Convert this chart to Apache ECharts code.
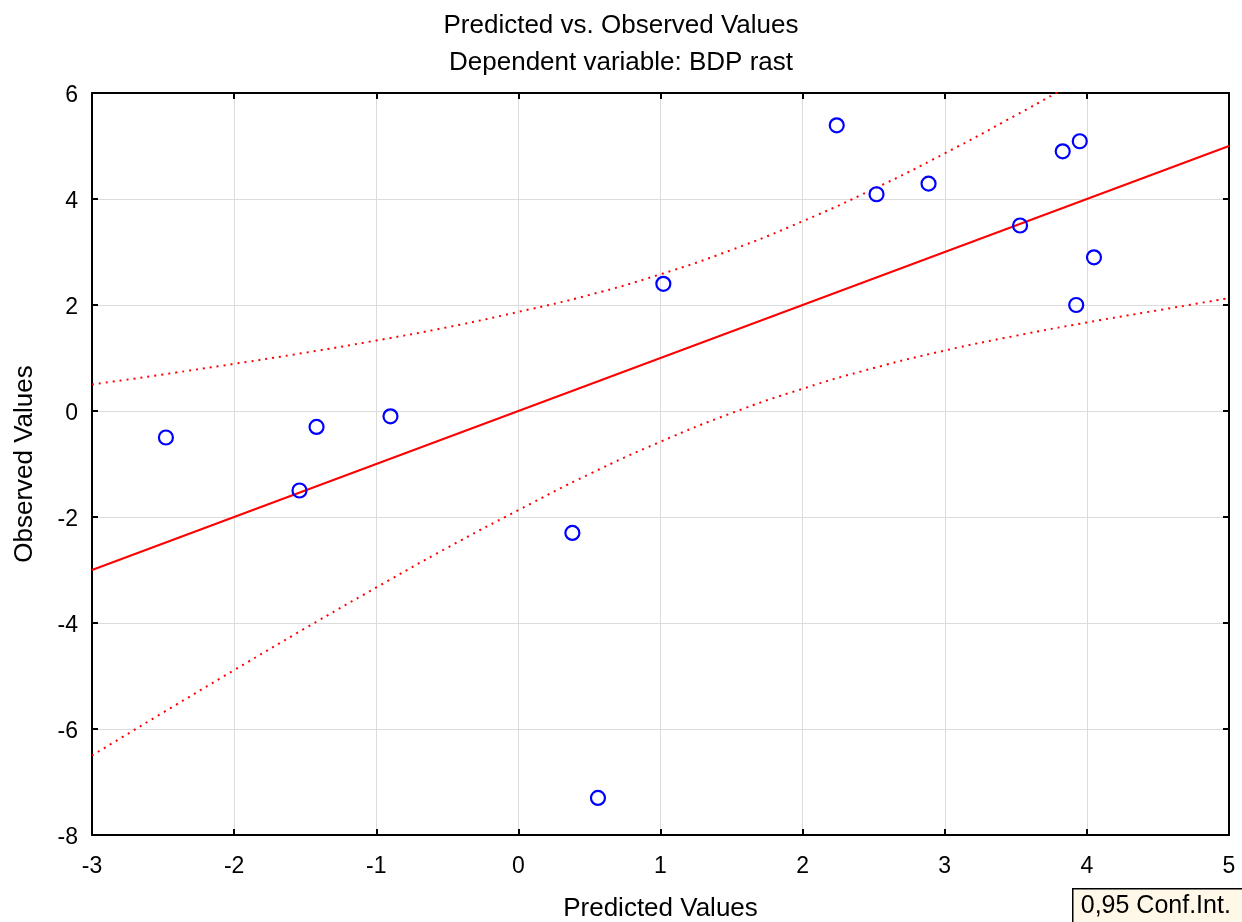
<!DOCTYPE html>
<html>
<head>
<meta charset="utf-8">
<script src="https://cdn.jsdelivr.net/npm/echarts@6/dist/echarts.min.js"></script>
<style>html,body{margin:0;padding:0;background:#fff;}#c{width:1242px;height:922px;}</style>
</head>
<body>
<div id="c"></div>
<script>
var titleText = 'Predicted vs. Observed Values';
var subtitleText = 'Dependent variable: BDP rast';
var xName = 'Predicted Values';
var yName = 'Observed Values';
var legendText = '0,95 Conf.Int.';

var predicted = [-2.48, -1.54, -1.42, -0.90, 0.38, 0.56, 1.02, 2.24, 2.52, 2.886, 3.53, 3.83, 3.925, 3.95, 4.05];
var observed  = [-0.50, -1.50, -0.30, -0.10, -2.30, -7.30, 2.40, 5.39, 4.09, 4.29, 3.50, 4.90, 2.00, 5.09, 2.90];

var fitX = [-3, 5];
var fitY = [-3, 5];

var bandX     = [-3, -2.5, -2, -1.5, -1, -0.5, 0, 0.5, 1, 1.5, 2, 2.5, 3, 3.5, 4, 4.5, 5];
var bandUpper = [0.50, 0.69, 0.89, 1.10, 1.33, 1.58, 1.87, 2.19, 2.58, 3.04, 3.58, 4.19, 4.86, 5.58, 6.33, 7.10, 7.89];
var bandLower = [-6.50, -5.69, -4.89, -4.10, -3.33, -2.58, -1.87, -1.19, -0.58, -0.04, 0.42, 0.81, 1.14, 1.42, 1.67, 1.90, 2.13];

function zip(a, b) { return a.map(function (v, i) { return [v, b[i]]; }); }

var font = 'Liberation Sans, Arial, sans-serif';
var chart = echarts.init(document.getElementById('c'));
var tickStyle = { show: true, inside: true, length: 6, lineStyle: { color: '#000', width: 2 } };
chart.setOption({
  animation: false,
  backgroundColor: '#fff',
  title: [
    { text: titleText, left: 'center', top: 8, textStyle: { fontFamily: font, fontSize: 26, fontWeight: 'normal', color: '#000' } },
    { text: subtitleText, left: 'center', top: 45, textStyle: { fontFamily: font, fontSize: 26, fontWeight: 'normal', color: '#000' } }
  ],
  grid: { left: 92, right: 13, top: 93, bottom: 87, containLabel: false, outerBoundsMode: 'none' },
  xAxis: [
    { type: 'value', min: -3, max: 5, interval: 1, position: 'bottom',
      name: xName, nameLocation: 'middle', nameGap: 61,
      nameTextStyle: { fontFamily: font, fontSize: 26, color: '#000' },
      axisLine: { show: true, onZero: false, lineStyle: { color: '#000', width: 2 } },
      axisTick: tickStyle,
      axisLabel: { fontFamily: font, fontSize: 23, color: '#000', margin: 20 },
      splitLine: { show: true, lineStyle: { color: '#dcdcdc', width: 1 } } },
    { type: 'value', min: -3, max: 5, interval: 1, position: 'top',
      axisLine: { show: true, onZero: false, lineStyle: { color: '#000', width: 2 } },
      axisTick: tickStyle, axisLabel: { show: false }, splitLine: { show: false } }
  ],
  yAxis: [
    { type: 'value', min: -8, max: 6, interval: 2, position: 'left',
      name: yName, nameLocation: 'middle', nameGap: 54,
      nameTextStyle: { fontFamily: font, fontSize: 26, color: '#000' },
      axisLine: { show: true, onZero: false, lineStyle: { color: '#000', width: 2 } },
      axisTick: tickStyle,
      axisLabel: { fontFamily: font, fontSize: 23, color: '#000', margin: 14, verticalAlign: 'top', lineHeight: 6 },
      splitLine: { show: true, lineStyle: { color: '#dcdcdc', width: 1 } } },
    { type: 'value', min: -8, max: 6, interval: 2, position: 'right',
      axisLine: { show: true, onZero: false, lineStyle: { color: '#000', width: 2 } },
      axisTick: tickStyle, axisLabel: { show: false }, splitLine: { show: false } }
  ],
  series: [
    { type: 'line', data: zip(bandX, bandUpper), smooth: true, showSymbol: false, clip: true,
      lineStyle: { color: '#ff0000', width: 2, type: [2, 5] }, z: 2 },
    { type: 'line', data: zip(bandX, bandLower), smooth: true, showSymbol: false, clip: true,
      lineStyle: { color: '#ff0000', width: 2, type: [2, 5] }, z: 2 },
    { type: 'line', data: zip(fitX, fitY), showSymbol: false, clip: true,
      lineStyle: { color: '#ff0000', width: 2 }, z: 3 },
    { type: 'scatter', data: zip(predicted, observed), symbol: 'circle', symbolSize: 14,
      itemStyle: { color: 'rgba(0,0,0,0)', borderColor: '#0000ff', borderWidth: 2.2, opacity: 1 }, z: 4 }
  ],
  graphic: [
    { type: 'group', left: 1072, top: 888, children: [
      { type: 'rect', shape: { x: 0, y: 0, width: 180, height: 50 },
        style: { fill: '#fff8e8', stroke: '#000', lineWidth: 1.5 } },
      { type: 'text', x: 8, y: 5, style: { text: legendText, font: '25px ' + font, fill: '#000' } }
    ] }
  ]
});
</script>
</body>
</html>
